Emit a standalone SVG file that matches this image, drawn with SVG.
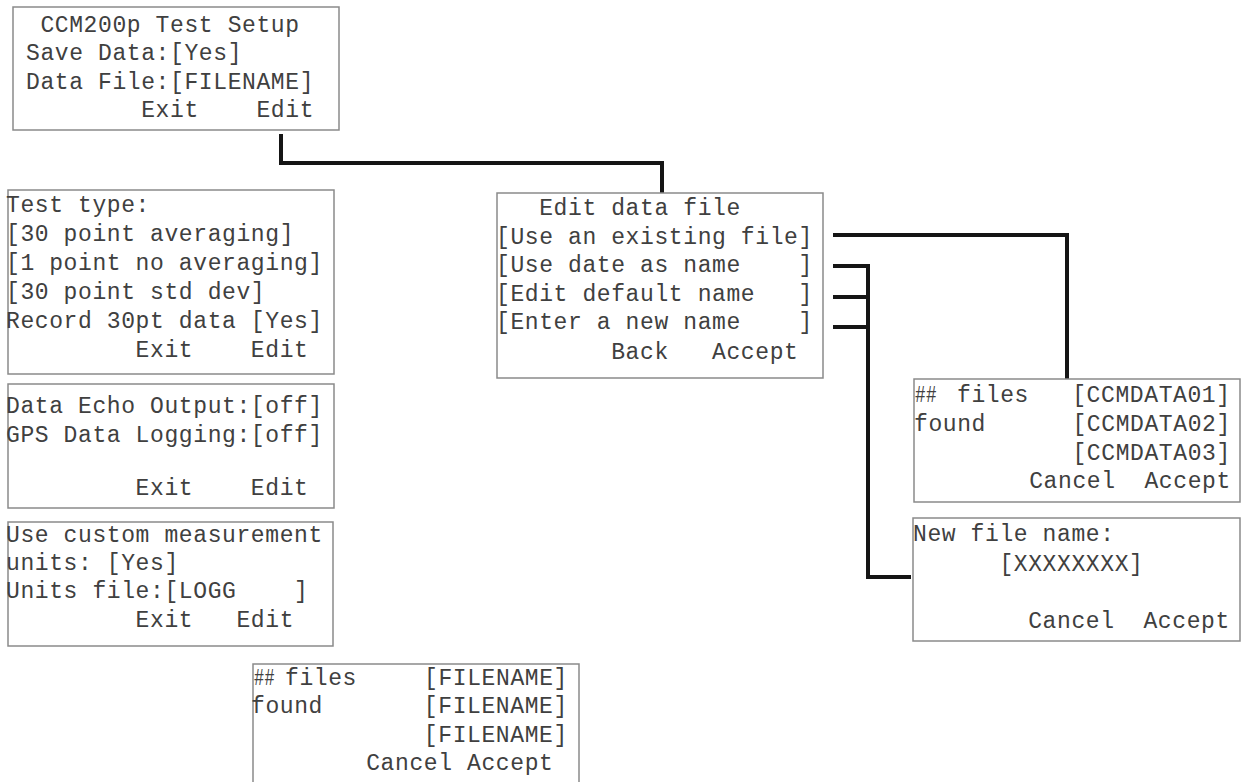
<svg xmlns="http://www.w3.org/2000/svg" width="1243" height="782" viewBox="0 0 1243 782">
<style>
.box{fill:#fff;stroke:#8a8a8a;stroke-width:1.5}
.t{font-family:"Liberation Mono","DejaVu Sans Mono",monospace;font-size:23px;letter-spacing:0.6px;fill:#404040;white-space:pre}
.c{fill:none;stroke:#151515;stroke-width:4;stroke-linejoin:miter}
</style>
<rect width="1243" height="782" fill="#fff"/>
<g id="connectors">
<path class="c" d="M281 134 V163 H662 V193"/>
<path class="c" d="M833 235 H1067 V379"/>
<path class="c" d="M833 266 H868 V577 H911"/>
<path class="c" d="M833 297 H868"/>
<path class="c" d="M833 327 H868"/>
</g>
<g id="test-setup">
<rect class="box" x="13" y="7" width="326" height="123"/>
<text class="t" xml:space="preserve" x="26" y="32"> CCM200p Test Setup</text>
<text class="t" xml:space="preserve" x="26" y="60">Save Data:[Yes]</text>
<text class="t" xml:space="preserve" x="26" y="89">Data File:[FILENAME]</text>
<text class="t" xml:space="preserve" x="26" y="117">        Exit    Edit</text>
</g>
<g id="test-type">
<rect class="box" x="8" y="190" width="326" height="184"/>
<text class="t" xml:space="preserve" x="6" y="212">Test type:</text>
<text class="t" xml:space="preserve" x="6" y="241">[30 point averaging]</text>
<text class="t" xml:space="preserve" x="6" y="270">[1 point no averaging]</text>
<text class="t" xml:space="preserve" x="6" y="299">[30 point std dev]</text>
<text class="t" xml:space="preserve" x="6" y="328">Record 30pt data [Yes]</text>
<text class="t" xml:space="preserve" x="6" y="357">         Exit    Edit</text>
</g>
<g id="data-echo">
<rect class="box" x="8" y="384" width="326" height="124"/>
<text class="t" xml:space="preserve" x="6" y="413">Data Echo Output:[off]</text>
<text class="t" xml:space="preserve" x="6" y="442">GPS Data Logging:[off]</text>
<text class="t" xml:space="preserve" x="6" y="495">         Exit    Edit</text>
</g>
<g id="custom-units">
<rect class="box" x="8" y="522" width="325" height="124"/>
<text class="t" xml:space="preserve" x="6" y="542">Use custom measurement</text>
<text class="t" xml:space="preserve" x="6" y="570">units: [Yes]</text>
<text class="t" xml:space="preserve" x="6" y="598">Units file:[LOGG    ]</text>
<text class="t" xml:space="preserve" x="6" y="627">         Exit   Edit</text>
</g>
<g id="files-found-bottom">
<rect class="box" x="253" y="664" width="326" height="140"/>
<text class="t" x="254" y="685" textLength="21" lengthAdjust="spacingAndGlyphs">##</text>
<text class="t" xml:space="preserve" x="285" y="685">files</text>
<text class="t" xml:space="preserve" x="424" y="685">[FILENAME]</text>
<text class="t" xml:space="preserve" x="251" y="713">found       [FILENAME]</text>
<text class="t" xml:space="preserve" x="251" y="742">            [FILENAME]</text>
<text class="t" xml:space="preserve" x="251" y="770">        Cancel Accept</text>
</g>
<g id="edit-data-file">
<rect class="box" x="497" y="193" width="326" height="185"/>
<text class="t" xml:space="preserve" x="496" y="215">   Edit data file</text>
<text class="t" xml:space="preserve" x="496" y="244">[Use an existing file]</text>
<text class="t" xml:space="preserve" x="496" y="272">[Use date as name    ]</text>
<text class="t" xml:space="preserve" x="496" y="301">[Edit default name   ]</text>
<text class="t" xml:space="preserve" x="496" y="329">[Enter a new name    ]</text>
<text class="t" xml:space="preserve" x="496" y="359">        Back   Accept</text>
</g>
<g id="files-found-right">
<rect class="box" x="914" y="379" width="326" height="123"/>
<text class="t" x="915" y="402" textLength="22" lengthAdjust="spacingAndGlyphs">##</text>
<text class="t" xml:space="preserve" x="957" y="402">files   [CCMDATA01]</text>
<text class="t" xml:space="preserve" x="914" y="431">found      [CCMDATA02]</text>
<text class="t" xml:space="preserve" x="914" y="460">           [CCMDATA03]</text>
<text class="t" xml:space="preserve" x="914" y="488">        Cancel  Accept</text>
</g>
<g id="new-file-name">
<rect class="box" x="913" y="518" width="327" height="123"/>
<text class="t" xml:space="preserve" x="913" y="541">New file name:</text>
<text class="t" xml:space="preserve" x="913" y="571">      [XXXXXXXX]</text>
<text class="t" xml:space="preserve" x="913" y="628">        Cancel  Accept</text>
</g>
</svg>
